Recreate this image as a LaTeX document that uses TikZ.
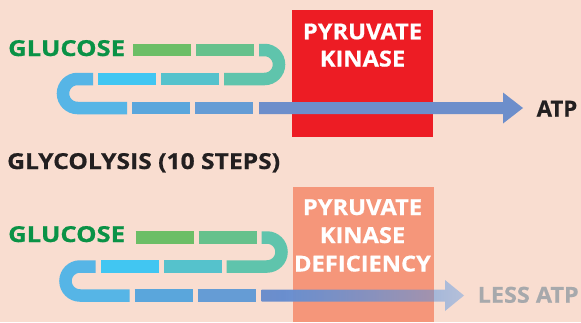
\documentclass[tikz,border=0pt]{standalone}
\usepackage{fontspec}
\setmainfont{Open Sans}[FakeStretch=1.12, BoldFeatures={FakeBold=0.6}]
\usetikzlibrary{fadings}
\definecolor{bg}{HTML}{F9DDD0}
\definecolor{glugreen}{HTML}{0A9246}
\definecolor{darktext}{HTML}{231F20}
\definecolor{pkred}{HTML}{ED1C24}
\definecolor{pksalmon}{HTML}{F5967A}
\definecolor{lessgrey}{HTML}{A7A9AC}
\definecolor{cA}{HTML}{6CBE66}
\definecolor{cB}{HTML}{66C18C}
\definecolor{cC}{HTML}{5FC4AC}
\definecolor{cD}{HTML}{55C2CC}
\definecolor{cE}{HTML}{41C6F2}
\definecolor{cF}{HTML}{56B5E6}
\definecolor{cG}{HTML}{5AA6DC}
\definecolor{cH}{HTML}{659CD5}
\definecolor{cI}{HTML}{6D8ECB}
\definecolor{fadeblue}{HTML}{4891E9}
\begin{tikzfadingfrompicture}[name=arrowfade]
  \fill[transparent!0] (-50bp,-50bp) rectangle (-19bp,50bp);
  \shade[left color=transparent!0, right color=transparent!76] (-20bp,-50bp) rectangle (35bp,50bp);
  \fill[transparent!76] (34bp,-50bp) rectangle (50bp,50bp);
\end{tikzfadingfrompicture}
\newcommand\labfont{\bfseries\fontsize{22}{27.5}\selectfont}
\tikzset{
  seg/.style={line width=12.5pt},
  lab/.style={anchor=base west, inner sep=0pt, font=\labfont},
  boxlab/.style={anchor=base, inner sep=0pt, font=\labfont, text=white},
  enzbox/.style={anchor=north west, inner sep=0pt, minimum width=141pt},
}
\newcommand\serpentine{%
  \draw[seg, cA] (133,50) -- (191,50);
  \draw[seg, cB] (196,50) -- (254,50);
  \draw[seg, cC] (259,50) -- (264.5,50) arc[start angle=-90,end angle=90,radius=14.5] -- (224,79);
  \draw[seg, cD] (219,79) -- (161,79);
  \draw[seg, cE] (156,79) -- (98,79);
  \draw[seg, cF] (93,79) -- (77.5,79) arc[start angle=-90,end angle=-270,radius=14.5] -- (127,108);
  \draw[seg, cG] (132,108) -- (190,108);
  \draw[seg, cH] (195,108) -- (253,108);
}
\begin{document}
\begin{tikzpicture}[x=1pt,y=-1pt]
\useasboundingbox (0,0) rectangle (581,322);
\fill[bg] (0,0) rectangle (581,322);
% top panel
\node[enzbox, fill=pkred, minimum height=127pt] (pk) at (292,10) {};
\node[boxlab] (pk1) at (362.5,39.3) {\scalebox{0.96}[1]{PYRUVATE}};
\node[boxlab] (pk2) at (362.5,66.5) {\scalebox{0.96}[1]{KINASE}};
\serpentine
\fill[cI] (259,102) -- (503,102) -- (503,92.5) -- (523,108) -- (503,123.5) -- (503,114) -- (259,114) -- cycle;
\node[lab, text=glugreen] (glu1) at (8,56) {\scalebox{1.04}[1]{GLUCOSE}};
\node[lab, text=darktext] (atp) at (536.5,116.5) {\scalebox{0.9}[1]{ATP}};
\node[lab, text=darktext] (gly) at (7,169) {GLYCOLYSIS (10 STEPS)};
% bottom panel
\node[enzbox, fill=pksalmon, minimum height=135pt] (pkd) at (293,187) {};
\node[boxlab] (pkd1) at (362.5,215) {\scalebox{0.96}[1]{PYRUVATE}};
\node[boxlab] (pkd2) at (362.5,243) {\scalebox{0.96}[1]{KINASE}};
\node[boxlab] (pkd3) at (362.5,271.5) {\scalebox{0.96}[1]{DEFICIENCY}};
\begin{scope}[shift={(2.5,187.5)}]
\serpentine
\shade[left color=cI, right color=fadeblue, path fading=arrowfade]
  (259,102) -- (442.5,102) -- (442.5,92.5) -- (461.5,108) -- (442.5,123.5) -- (442.5,114) -- (259,114) -- cycle;
\end{scope}
\node[lab, text=glugreen] (glu2) at (8,242) {\scalebox{1.04}[1]{GLUCOSE}};
\node[lab, text=lessgrey] (less) at (477.5,302.7) {\scalebox{0.95}[1]{LESS ATP}};
\end{tikzpicture}
\end{document}
